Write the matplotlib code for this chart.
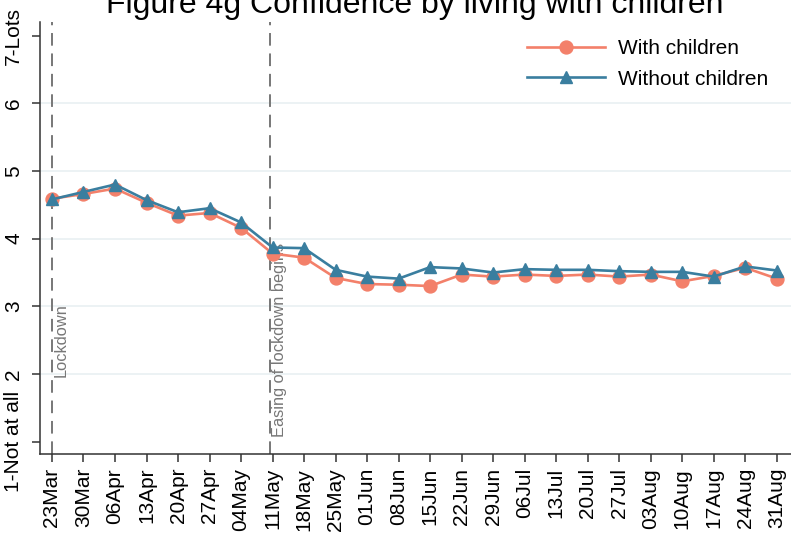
import matplotlib
matplotlib.use('Agg')
import matplotlib.pyplot as plt
import numpy as np

plt.rcParams['font.family'] = ['Liberation Sans', 'DejaVu Sans']

# Weekly survey dates
weeks = ['23Mar', '30Mar', '06Apr', '13Apr', '20Apr', '27Apr', '04May', '11May',
         '18May', '25May', '01Jun', '08Jun', '15Jun', '22Jun', '29Jun', '06Jul',
         '13Jul', '20Jul', '27Jul', '03Aug', '10Aug', '17Aug', '24Aug', '31Aug']

# Mean confidence score (1-7)
with_children = [4.59, 4.66, 4.74, 4.53, 4.34, 4.38, 4.16, 3.78,
                 3.72, 3.42, 3.33, 3.32, 3.30, 3.47, 3.44, 3.47,
                 3.45, 3.47, 3.44, 3.47, 3.37, 3.45, 3.57, 3.41]
without_children = [4.58, 4.69, 4.80, 4.57, 4.39, 4.45, 4.24, 3.87,
                    3.86, 3.54, 3.44, 3.41, 3.58, 3.56, 3.50, 3.55,
                    3.54, 3.54, 3.52, 3.51, 3.51, 3.44, 3.59, 3.53]

y_ticks = [1, 2, 3, 4, 5, 6, 7]
y_labels = ['1-Not at all', '2', '3', '4', '5', '6', '7-Lots']

# Policy events (position in weeks from 23Mar)
events = [(0, 'Lockdown'), (6.93, 'Easing of lockdown begins')]

orange = '#F3806A'
blue = '#3A7E9F'

fig = plt.figure(figsize=(7.91, 5.34), dpi=100)
ax = fig.add_axes([40 / 791, 1 - 454 / 534, 1 - 40 / 791, (454 - 22) / 534])

x = np.arange(len(weeks))

for g in [2, 3, 4, 5, 6]:
    ax.axhline(g, color='#EAF1F3', lw=1.3, zorder=0)

for pos, label in events:
    ax.axvline(pos, color='#777777', lw=1.4, ls=(0, (6.5, 4)), zorder=1)
    ax.text(pos + 0.04, 2.5, label, rotation=90, ha='left', va='center',
            color='#777777', fontsize=11.8)

ax.plot(x, with_children, color=orange, lw=1.9, marker='o', markersize=9.3,
        label='With children', zorder=3)
ax.plot(x, without_children, color=blue, lw=1.9, marker='^', markersize=8.8,
        label='Without children', zorder=4)

ax.set_xlim(-0.38, 23.45)
ax.set_ylim(0.82, 7.2)
ax.set_xticks(x)
ax.set_xticklabels(weeks, rotation=90, fontsize=15)
ax.set_yticks(y_ticks)
ax.set_yticklabels(y_labels, rotation=90, va='center', fontsize=15)
ax.tick_params(axis='x', length=6, width=1.1, pad=4, color='#333333')
ax.tick_params(axis='y', length=6, width=1.1, pad=6, color='#333333')

for side in ['top', 'right']:
    ax.spines[side].set_visible(False)
for side in ['left', 'bottom']:
    ax.spines[side].set_color('#333333')
    ax.spines[side].set_linewidth(1.1)

fig.text(0.524, 1 - 12.7 / 534, 'Figure 4g Confidence by living with children',
         ha='center', va='baseline', fontsize=23)

ax.legend(loc='upper left', bbox_to_anchor=(527 / 791, 1 - 39 / 534),
          bbox_transform=fig.transFigure, frameon=False, fontsize=15,
          handlelength=3.75, handletextpad=0.6, labelspacing=0.56,
          borderpad=0, borderaxespad=0)

fig.savefig('out.png', dpi=100)
